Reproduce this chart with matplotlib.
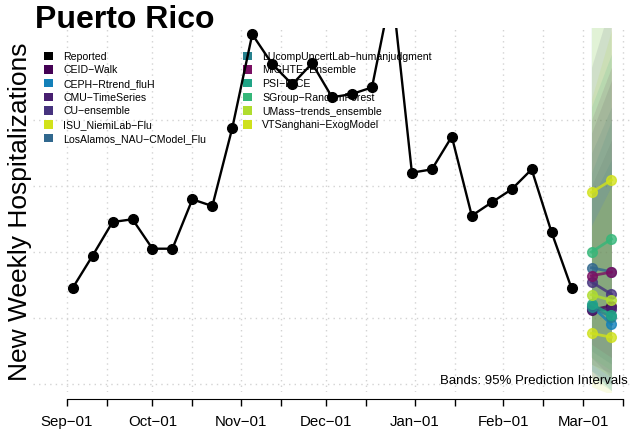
import datetime as dt
import matplotlib
matplotlib.use("Agg")
import matplotlib.pyplot as plt
import matplotlib.dates as mdates
from matplotlib.patches import Patch

plt.rcParams['font.family'] = ['Liberation Sans', 'DejaVu Sans']

# weekly reported admissions, Puerto Rico 2022-23
start = dt.date(2022, 9, 3)
weeks = [start + dt.timedelta(days=7 * i) for i in range(26)]
reported = [72.7, 97.2, 122.7, 124.8, 102.5, 102.5, 139.9, 134.8, 194.0,
            264.9, 242.4, 227.0, 242.9, 217.2, 219.7, 224.7, 300.0, 160.1,
            162.6, 187.4, 127.5, 137.6, 147.5, 162.6, 114.9, 72.5]

# forecast targets (1 and 2 weeks ahead)
target_dates = [dt.date(2023, 3, 4), dt.date(2023, 3, 11)]

models = ['CEID-Walk', 'CEPH-Rtrend_fluH', 'CMU-TimeSeries', 'CU-ensemble',
          'ISU_NiemiLab-Flu', 'LosAlamos_NAU-CModel_Flu',
          'LUcompUncertLab-humanjudgment', 'MIGHTE-Ensemble', 'PSI-DICE',
          'SGroup-RandomForest', 'UMass-trends_ensemble', 'VTSanghani-ExogModel']
colors = ['#440154', '#1380b9', '#481f70', '#46337e', '#d2e21b', '#31688e',
          '#26818e', '#7a0f63', '#20a486', '#35b779', '#b0dd2f', '#cfe11c']

# point forecasts
median = [[56.0, 59.3], [59.0, 45.2], [57.0, 57.0], [77.3, 68.0],
          [145.2, 154.5], [88.1, 85.0], [58.0, 51.0], [82.0, 84.8],
          [60.6, 52.3], [100.0, 109.8], [67.6, 63.3], [38.4, 35.4]]
# 95% prediction intervals
lower = [[5, 0], [10, -5], [15, 8], [20, 5], [40, 30], [25, 15],
         [10, 0], [30, 20], [5, -5], [20, 10], [15, 5], [-2, -8]]
upper = [[190, 230], [140, 170], [150, 185], [240, 290], [280, 330],
         [175, 210], [160, 200], [200, 240], [210, 250], [300, 380],
         [216, 268], [120, 150]]

fig = plt.figure(figsize=(6.32, 4.36), dpi=100)
ax = fig.add_axes([33 / 632, 44 / 436, 599 / 632, 364 / 436])

for c, lo, hi in zip(colors, lower, upper):
    ax.fill_between(target_dates, lo, hi, color=c, alpha=0.12, lw=0, zorder=2)

for c, m in zip(colors, median):
    ax.plot(target_dates, m, color=c, lw=2, marker='o', ms=7, alpha=0.8,
            zorder=3)

ax.plot(weeks, reported, color='black', lw=1.7, marker='o', ms=7, zorder=4)

x0 = mdates.date2num(dt.date(2022, 9, 1))
x1 = mdates.date2num(dt.date(2023, 3, 1))
ax.set_xlim(x0 - 11.9, x1 + 17.2)
ax.set_ylim(-6.06, 269.7)

ax.xaxis.set_major_locator(mdates.MonthLocator(bymonthday=1))
ax.xaxis.set_minor_locator(mdates.MonthLocator(bymonthday=15))
ax.xaxis.set_major_formatter(mdates.DateFormatter('%b\u2212%d'))
ax.set_yticks([0, 50, 100, 150, 200])
ax.tick_params(axis='y', left=False, labelleft=False)
ax.tick_params(axis='x', which='both', direction='out', length=5, width=1,
               labelsize=10.8, pad=6.5)

ax.grid(which='both', axis='x', color='#d3d3d3', ls=(0, (1, 3)), lw=1)
ax.grid(axis='y', color='#d3d3d3', ls=(0, (1, 3)), lw=1)

for s in ['left', 'right', 'top']:
    ax.spines[s].set_visible(False)
ax.spines['bottom'].set_position(('outward', 5))
ax.spines['bottom'].set_bounds(x0, mdates.date2num(dt.date(2023, 3, 15)))

handles = [Patch(facecolor='black', edgecolor='none', label='Reported')]
handles += [Patch(facecolor=c, edgecolor='none', label=m.replace('-', '\u2212'))
            for c, m in zip(colors, models)]
leg_kw = dict(frameon=False, fontsize=7.6, handlelength=0.85,
              handleheight=0.85, handletextpad=0.95, labelspacing=0.35,
              borderpad=0, borderaxespad=0, loc='upper left')
leg1 = ax.legend(handles=handles[:7], bbox_to_anchor=(44 / 632, 1 - 51.5 / 436),
                 bbox_transform=fig.transFigure, **leg_kw)
leg1.set_zorder(1.8)
ax.add_artist(leg1)
leg2 = ax.legend(handles=handles[7:], bbox_to_anchor=(243 / 632, 1 - 51.5 / 436),
                 bbox_transform=fig.transFigure, **leg_kw)
leg2.set_zorder(1.8)

fig.text(35 / 632, 1 - 28 / 436, 'Puerto Rico', fontsize=23,
         fontweight='bold', va='baseline')
fig.text(20 / 632, 1 - 212 / 436, 'New Weekly Hospitalizations', fontsize=19,
         rotation=90, ha='center', va='center')
fig.text(628 / 632, 1 - 381 / 436, 'Bands: 95% Prediction Intervals',
         fontsize=9.5, ha='right', va='center')

fig.savefig('out.png', dpi=100)
